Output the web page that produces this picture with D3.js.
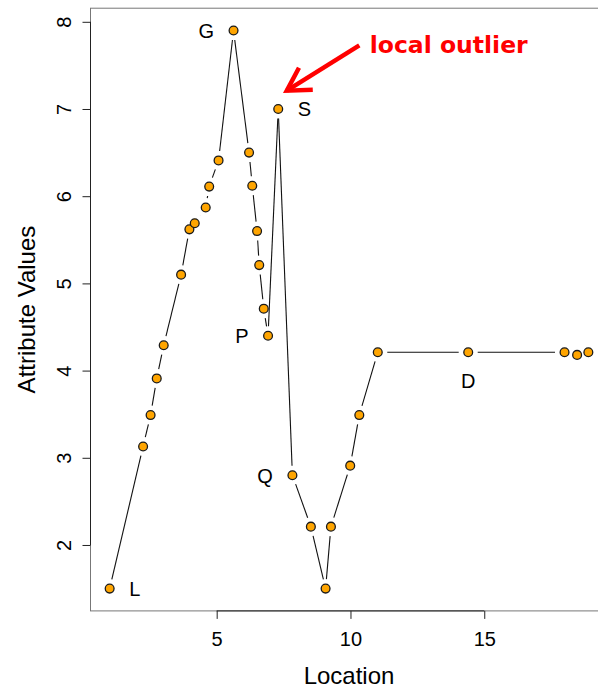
<!DOCTYPE html>
<html>
<head>
<meta charset="utf-8">
<script src="https://cdn.jsdelivr.net/npm/d3@7"></script>
<style>
  html, body { margin: 0; padding: 0; background: #fff; }
  svg { display: block; }
  text { font-family: "Liberation Sans", Arial, Helvetica, sans-serif; }
</style>
</head>
<body>
<svg id="chart" width="598" height="688"></svg>
<script>
// Attribute values measured along a transect of locations
const locations = [1, 2.25, 2.53, 2.76, 3.02, 3.67, 3.98, 4.18, 4.59, 4.72,
                   5.07, 5.63, 6.21, 6.33, 6.51, 6.59, 6.76, 6.92, 7.3, 7.83,
                   8.52, 9.07, 9.27, 9.99, 10.33, 11.02, 14.4, 18.0, 18.47, 18.89];
const attributeValues = [1.5, 3.13, 3.49, 3.91, 4.29, 5.1, 5.62, 5.69, 5.87, 6.11,
                         6.41, 7.9, 6.5, 6.12, 5.6, 5.21, 4.71, 4.4, 7.0, 2.8,
                         2.21, 1.5, 2.21, 2.91, 3.49, 4.21, 4.21, 4.21, 4.18, 4.21];

// Named points and which side of the point their letter sits on
const labelNames = ["L", "G", "P", "S", "Q", "D"];
const labelIndex = [0, 11, 17, 18, 19, 26];
const labelSide  = ["right", "left", "left", "right", "left", "below"];

const xTicks = [5, 10, 15];
const yTicks = [2, 3, 4, 5, 6, 7, 8];

// Annotation arrow (data units): tail near the caption, tip near S
const arrowTail = [10.33, 7.73];
const arrowTip  = [7.62, 7.21];
const arrowText = "local outlier";
const arrowTextAt = [10.72, 7.64];

const svg = d3.select("#chart");

// Axis ranges padded by 4% on each side
function padded(vals) {
  const [lo, hi] = d3.extent(vals);
  const p = (hi - lo) * 0.04;
  return [lo - p, hi + p];
}
const x = d3.scaleLinear().domain(padded(locations)).range([90.5, 607.5]);
const y = d3.scaleLinear().domain(padded(attributeValues)).range([610.9, 8.2]);

const pts = locations.map((v, i) => ({ x: v, y: attributeValues[i], px: x(v), py: y(attributeValues[i]) }));

// Plot box
const [x0, x1] = x.range();
const [yb, yt] = y.range();
svg.append("rect")
  .attr("x", x0).attr("y", yt)
  .attr("width", x1 - x0).attr("height", yb - yt)
  .attr("fill", "none").attr("stroke", "#777").attr("stroke-width", 1);

// X axis
const gx = svg.append("g").attr("transform", `translate(0,${yb})`)
  .call(d3.axisBottom(x).tickValues(xTicks).tickSize(8).tickPadding(13).tickFormat(d3.format("d")));
gx.select(".domain").remove();
gx.selectAll(".tick line").attr("stroke", "#222");
gx.selectAll(".tick text").attr("font-size", 20).attr("fill", "#000")
  .style("font-family", "'Liberation Sans', Arial, sans-serif");
gx.append("line").attr("x1", x(xTicks[0])).attr("x2", x(xTicks[xTicks.length - 1]))
  .attr("y1", 0).attr("y2", 0).attr("stroke", "#222");

// Y axis, labels turned parallel to the axis
const gy = svg.append("g").attr("transform", `translate(${x0},0)`)
  .call(d3.axisLeft(y).tickValues(yTicks).tickSize(8).tickFormat(d3.format("d")));
gy.select(".domain").remove();
gy.selectAll(".tick line").attr("stroke", "#222");
gy.selectAll(".tick text")
  .attr("x", null).attr("dy", null)
  .attr("text-anchor", "middle")
  .attr("transform", "translate(-19.5,0) rotate(-90)")
  .attr("font-size", 20).attr("fill", "#000")
  .style("font-family", "'Liberation Sans', Arial, sans-serif");
gy.append("line").attr("y1", y(yTicks[0])).attr("y2", y(yTicks[yTicks.length - 1]))
  .attr("x1", 0).attr("x2", 0).attr("stroke", "#222");

// Axis titles
svg.append("text").attr("x", (x0 + x1) / 2 - 0).attr("y", 684)
  .attr("text-anchor", "middle").attr("font-size", 24).text("Location")
  .attr("x", 349);
svg.append("text")
  .attr("transform", `translate(35,${(yb + yt) / 2}) rotate(-90)`)
  .attr("text-anchor", "middle").attr("font-size", 24).text("Attribute Values");

// Connecting line with gaps around each point
const gap = 9.5;
const segs = [];
for (let i = 0; i < pts.length - 1; i++) {
  const a = pts[i], b = pts[i + 1];
  const dx = b.px - a.px, dy = b.py - a.py;
  const d = Math.hypot(dx, dy);
  if (d <= 2 * gap) continue;
  const ux = dx / d, uy = dy / d;
  segs.push([a.px + ux * gap, a.py + uy * gap, b.px - ux * gap, b.py - uy * gap]);
}
svg.append("g").selectAll("line").data(segs).join("line")
  .attr("x1", d => d[0]).attr("y1", d => d[1])
  .attr("x2", d => d[2]).attr("y2", d => d[3])
  .attr("stroke", "#111").attr("stroke-width", 1.1);

// Points
svg.append("g").selectAll("circle").data(pts).join("circle")
  .attr("cx", d => d.px).attr("cy", d => d.py).attr("r", 4.4)
  .attr("fill", "#FFA500").attr("stroke", "#1a1a1a").attr("stroke-width", 1.3);

// Point letters
const off = 19.5;
labelNames.forEach((name, k) => {
  const p = pts[labelIndex[k]];
  const side = labelSide[k];
  const t = svg.append("text").attr("font-size", 20).attr("fill", "#000").text(name);
  if (side === "left") {
    t.attr("x", p.px - off).attr("y", p.py + 7.5).attr("text-anchor", "end");
  } else if (side === "right") {
    t.attr("x", p.px + off).attr("y", p.py + 7.5).attr("text-anchor", "start");
  } else {
    t.attr("x", p.px).attr("y", p.py + 36).attr("text-anchor", "middle");
  }
});

// Red annotation arrow
const tx = x(arrowTail[0]), ty = y(arrowTail[1]);
const hx = x(arrowTip[0]), hy = y(arrowTip[1]);
const ang = Math.atan2(ty - hy, tx - hx);
const headLen = 26, headAng = Math.PI / 6;
const arrow = svg.append("g").attr("stroke", "#FF0000").attr("stroke-width", 4.5)
  .attr("fill", "none").attr("stroke-linecap", "butt").attr("stroke-linejoin", "miter");
arrow.append("line").attr("x1", tx).attr("y1", ty).attr("x2", hx).attr("y2", hy);
arrow.append("path").attr("d",
  `M${hx + headLen * Math.cos(ang + headAng)},${hy + headLen * Math.sin(ang + headAng)}` +
  `L${hx},${hy}` +
  `L${hx + headLen * Math.cos(ang - headAng)},${hy + headLen * Math.sin(ang - headAng)}`);

svg.append("text").attr("x", x(arrowTextAt[0])).attr("y", y(arrowTextAt[1]))
  .attr("fill", "#FF0000").attr("font-weight", "bold").attr("font-size", 23.5)
  .style("font-family", "'DejaVu Sans', Verdana, sans-serif")
  .text(arrowText);
</script>
</body>
</html>
